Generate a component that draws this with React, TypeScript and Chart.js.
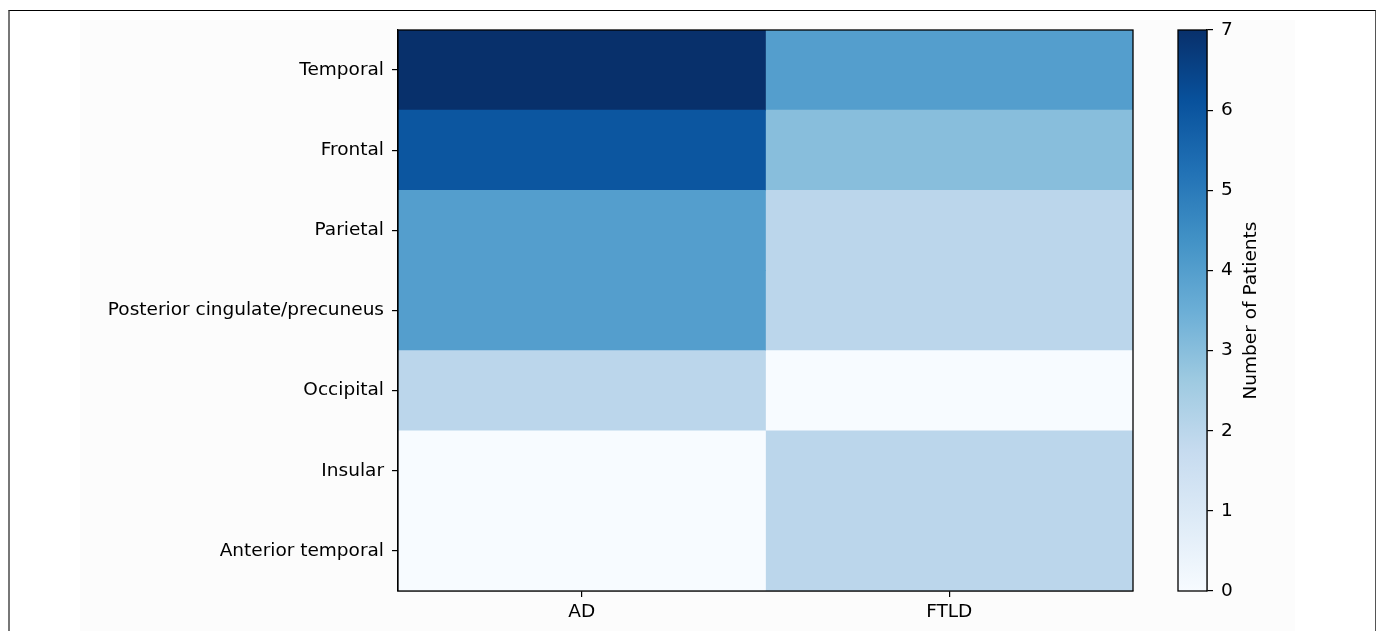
import React, { useEffect, useRef } from 'react';
import { Chart, registerables } from 'chart.js';

Chart.register(...registerables);

const regions = [
  'Temporal',
  'Frontal',
  'Parietal',
  'Posterior cingulate/precuneus',
  'Occipital',
  'Insular',
  'Anterior temporal',
];
const groups = ['AD', 'FTLD'];
const adCounts = [7, 6, 4, 4, 2, 0, 0];
const ftldCounts = [4, 3, 2, 2, 0, 2, 2];
const colorbarTicks = [0, 1, 2, 3, 4, 5, 6, 7];
const colorMin = 0;
const colorMax = 7;
const colorbarLabel = 'Number of Patients';

const BLUES = ['#f7fbff', '#deebf7', '#c6dbef', '#9ecae1', '#6baed6', '#4292c6', '#2171b5', '#08519c', '#08306b'];

function hexToRgb(h: string) {
  return [parseInt(h.slice(1, 3), 16), parseInt(h.slice(3, 5), 16), parseInt(h.slice(5, 7), 16)];
}

function blues(v: number) {
  const t = Math.max(0, Math.min(1, (v - colorMin) / (colorMax - colorMin))) * (BLUES.length - 1);
  const i = Math.min(Math.floor(t), BLUES.length - 2);
  const f = t - i;
  const a = hexToRgb(BLUES[i]);
  const b = hexToRgb(BLUES[i + 1]);
  const c = a.map((x, k) => Math.round(x + (b[k] - x) * f));
  return `rgb(${c[0]},${c[1]},${c[2]})`;
}

const FONT = { family: '"DejaVu Sans", sans-serif', size: 18.5 };
const TEXT = '#000';

const boxPlugin = {
  id: 'box',
  afterDraw(chart: any) {
    const { ctx, chartArea } = chart;
    ctx.save();
    ctx.strokeStyle = '#000';
    ctx.lineWidth = 1.3;
    ctx.strokeRect(chartArea.left, chartArea.top, chartArea.right - chartArea.left, chartArea.bottom - chartArea.top);
    ctx.restore();
  },
};

const cbLabelPlugin = {
  id: 'cbLabel',
  afterDraw(chart: any) {
    const { ctx, chartArea } = chart;
    ctx.save();
    ctx.fillStyle = TEXT;
    ctx.font = `${FONT.size}px ${FONT.family}`;
    ctx.textAlign = 'center';
    ctx.textBaseline = 'middle';
    ctx.translate(91, (chartArea.top + chartArea.bottom) / 2);
    ctx.rotate(-Math.PI / 2);
    ctx.fillText(colorbarLabel, 0, 0);
    ctx.restore();
  },
};

export default function App() {
  const mainRef = useRef<HTMLCanvasElement>(null);
  const cbRef = useRef<HTMLCanvasElement>(null);

  useEffect(() => {
    const series = [adCounts, ftldCounts];
    const main = new Chart(mainRef.current as HTMLCanvasElement, {
      type: 'bar',
      data: {
        labels: regions,
        datasets: groups.map((g, gi) => ({
          label: g,
          data: regions.map(() => [gi, gi + 1]),
          backgroundColor: series[gi].map(blues),
          borderWidth: 0,
          barPercentage: 1,
          categoryPercentage: 1,
          grouped: false,
        })) as any,
      },
      options: {
        indexAxis: 'y',
        responsive: false,
        animation: false,
        layout: { padding: { top: 30, right: 27, bottom: 0, left: 0 } },
        plugins: { legend: { display: false }, tooltip: { enabled: false } },
        scales: {
          x: {
            type: 'linear',
            min: 0,
            max: groups.length,
            afterBuildTicks: (s: any) => {
              s.ticks = groups.map((_, i) => ({ value: i + 0.5 }));
            },
            afterFit: (s: any) => {
              s.height = 40;
            },
            ticks: {
              autoSkip: false,
              maxRotation: 0,
              callback: (v: any) => groups[Math.round(Number(v) - 0.5)],
              font: FONT,
              color: TEXT,
              padding: 4,
            },
            grid: { drawOnChartArea: false, tickLength: 6, color: '#000', lineWidth: 1.2 },
            border: { display: true, color: '#000', width: 1.3 },
          },
          y: {
            type: 'category',
            afterFit: (s: any) => {
              s.width = 398;
            },
            ticks: { font: FONT, color: TEXT, padding: 8, autoSkip: false },
            grid: { drawOnChartArea: false, offset: false, tickLength: 6, color: '#000', lineWidth: 1.2 },
            border: { display: true, color: '#000', width: 1.3 },
          },
        },
      },
      plugins: [boxPlugin],
    } as any);

    const cb = new Chart(cbRef.current as HTMLCanvasElement, {
      type: 'bar',
      data: {
        labels: ['cb'],
        datasets: [
          {
            data: [[colorMin, colorMax]],
            backgroundColor: (ctx: any) => {
              const area = ctx.chart.chartArea;
              if (!area) return BLUES[4];
              const g = ctx.chart.ctx.createLinearGradient(0, area.bottom, 0, area.top);
              BLUES.forEach((c, i) => g.addColorStop(i / (BLUES.length - 1), c));
              return g;
            },
            borderWidth: 0,
            barPercentage: 1,
            categoryPercentage: 1,
          },
        ] as any,
      },
      options: {
        responsive: false,
        animation: false,
        layout: { padding: { top: 30, right: 0, bottom: 40, left: 18 } },
        plugins: { legend: { display: false }, tooltip: { enabled: false } },
        scales: {
          x: { type: 'category', display: false },
          y: {
            type: 'linear',
            position: 'right',
            min: colorMin,
            max: colorMax,
            afterBuildTicks: (s: any) => {
              s.ticks = colorbarTicks.map((v) => ({ value: v }));
            },
            afterFit: (s: any) => {
              s.width = 169;
            },
            ticks: { font: FONT, color: TEXT, padding: 8 },
            grid: { drawOnChartArea: false, tickLength: 6, color: '#000', lineWidth: 1.2 },
            border: { display: true, color: '#000', width: 1.3 },
          },
        },
      },
      plugins: [boxPlugin, cbLabelPlugin],
    } as any);

    return () => {
      main.destroy();
      cb.destroy();
    };
  }, []);

  return (
    <div style={{ position: 'absolute', left: 0, top: 0, width: 1376, height: 631, overflow: 'hidden', background: '#fff' }}>
      <div
        style={{
          position: 'absolute',
          left: 8,
          top: 10,
          width: 1368,
          height: 660,
          borderTop: '1px solid #000',
          borderLeft: '2px solid #777',
          borderRight: '1px solid #555',
          boxSizing: 'border-box',
        }}
      />
      <div style={{ position: 'absolute', left: 80, top: 20, width: 1215, height: 611, background: '#fcfcfc' }} />
      <canvas ref={mainRef} width={1160} height={631} style={{ position: 'absolute', left: 0, top: 0 }} />
      <canvas ref={cbRef} width={216} height={631} style={{ position: 'absolute', left: 1160, top: 0 }} />
    </div>
  );
}
